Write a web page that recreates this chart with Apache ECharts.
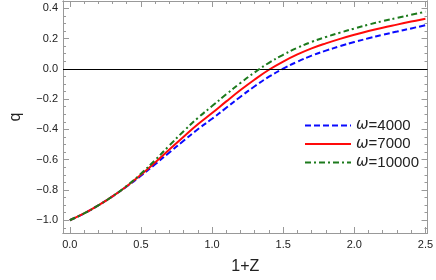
<!DOCTYPE html>
<html>
<head>
<meta charset="utf-8">
<script src="https://cdn.jsdelivr.net/npm/echarts@6/dist/echarts.min.js"></script>
<style>html,body{margin:0;padding:0;background:#fff}#c{width:436px;height:280px}</style>
</head>
<body>
<div id="c"></div>
<script>
const xValues = [0.0,0.1,0.2,0.3,0.4,0.5,0.6,0.7,0.8,0.9,1.0,1.1,1.2,1.3,1.4,1.5,1.6,1.7,1.8,1.9,2.0,2.1,2.2,2.3,2.4,2.5];
const q4000  = [-1.000,-0.955,-0.902,-0.842,-0.777,-0.706,-0.630,-0.552,-0.475,-0.399,-0.330,-0.257,-0.184,-0.115,-0.052,0.001,0.047,0.087,0.120,0.150,0.177,0.202,0.225,0.246,0.267,0.288];
const q7000  = [-1.000,-0.955,-0.902,-0.842,-0.775,-0.700,-0.618,-0.533,-0.448,-0.366,-0.292,-0.215,-0.140,-0.070,-0.006,0.048,0.095,0.135,0.168,0.198,0.225,0.250,0.272,0.292,0.312,0.331];
const q10000 = [-1.000,-0.955,-0.902,-0.842,-0.773,-0.693,-0.602,-0.506,-0.412,-0.324,-0.246,-0.168,-0.093,-0.023,0.040,0.093,0.139,0.178,0.210,0.239,0.266,0.292,0.315,0.336,0.357,0.377];
const seriesNames = ['ω=4000','ω=7000','ω=10000'];
const xMajor = [0.0,0.5,1.0,1.5,2.0,2.5];
const xMinor = [0.1,0.2,0.3,0.4,0.6,0.7,0.8,0.9,1.1,1.2,1.3,1.4,1.6,1.7,1.8,1.9,2.1,2.2,2.3,2.4];
const yMajor = [-1.0,-0.8,-0.6,-0.4,-0.2,0.0,0.2,0.4];
const yMinor = [-1.05,-0.95,-0.9,-0.85,-0.75,-0.7,-0.65,-0.55,-0.5,-0.45,-0.35,-0.3,-0.25,-0.15,-0.1,-0.05,0.05,0.1,0.15,0.25,0.3,0.35];

const XMIN = -0.048, XMAX = 2.515, YMIN = -1.084, YMAX = 0.448;
const frameColor = '#999999';
const FONT = 'Liberation Sans, Arial, sans-serif';
const fmt = v => (v < 0 ? '\u2212' : '') + Math.abs(v).toFixed(1);

function xAx(pos, vals, len, labels, extra) {
  return Object.assign({
    type: 'value', position: pos, min: XMIN, max: XMAX,
    axisLine: { show: true, onZero: false, lineStyle: { color: frameColor, width: 1 } },
    axisTick: { show: true, inside: true, length: len, customValues: vals, lineStyle: { color: frameColor, width: 1 } },
    axisLabel: labels ? { show: true, customValues: vals, formatter: fmt, color: '#222', fontSize: 11, fontFamily: FONT, margin: 6 } : { show: false },
    splitLine: { show: false }
  }, extra || {});
}
function yAx(pos, vals, len, labels, extra) {
  return Object.assign({
    type: 'value', position: pos, min: YMIN, max: YMAX,
    axisLine: { show: true, onZero: false, lineStyle: { color: frameColor, width: 1 } },
    axisTick: { show: true, inside: true, length: len, customValues: vals, lineStyle: { color: frameColor, width: 1 } },
    axisLabel: labels ? { show: true, customValues: vals, formatter: fmt, color: '#222', fontSize: 11, fontFamily: FONT, margin: 5 } : { show: false },
    splitLine: { show: false }
  }, extra || {});
}

function pairs(ys) { return xValues.map((x, i) => [x, ys[i]]); }

const chart = echarts.init(document.getElementById('c'), null, { renderer: 'canvas' });
chart.setOption({
  animation: false,
  backgroundColor: '#fff',
  grid: { left: 53, right: 7, top: 1, bottom: 43, containLabel: false },
  xAxis: [
    xAx('bottom', xMajor, 6, true, { name: '1+Z', nameLocation: 'middle', nameGap: 26, nameTextStyle: { fontSize: 16, color: '#222', fontFamily: FONT } }),
    xAx('bottom', xMinor, 3, false),
    xAx('top', xMajor, 6, false),
    xAx('top', xMinor, 3, false)
  ],
  yAxis: [
    yAx('left', yMajor, 6, true, { name: 'q', nameLocation: 'middle', nameRotate: 90, nameGap: 39, nameTextStyle: { fontSize: 16, color: '#222', fontFamily: FONT } }),
    yAx('left', yMinor, 3, false),
    yAx('right', yMajor, 6, false),
    yAx('right', yMinor, 3, false)
  ],
  legend: {
    orient: 'vertical', left: 299, top: 113,
    itemWidth: 46, itemHeight: 14, itemGap: 3.5,
    data: seriesNames,
    itemStyle: { opacity: 0 },
    formatter: n => '{i|ω}' + n.slice(1),
    textStyle: { fontSize: 15, color: '#222', fontFamily: FONT,
      rich: { i: { fontStyle: 'italic', fontSize: 15, fontFamily: 'DejaVu Sans, sans-serif' } } }
  },
  series: [
    { name: seriesNames[0], type: 'line', data: pairs(q4000), smooth: 0.4, symbol: 'none', showSymbol: false,
      lineStyle: { color: '#0a0aff', width: 2, type: [6, 3] }, itemStyle: { color: '#0a0aff' }, z: 3,
      markLine: { silent: true, symbol: 'none', label: { show: false }, lineStyle: { color: '#000', width: 1, type: 'solid' }, data: [{ yAxis: 0 }] } },
    { name: seriesNames[1], type: 'line', data: pairs(q7000), smooth: 0.4, symbol: 'none', showSymbol: false,
      lineStyle: { color: '#ff0a0a', width: 2, type: 'solid' }, itemStyle: { color: '#ff0a0a' }, z: 4 },
    { name: seriesNames[2], type: 'line', data: pairs(q10000), smooth: 0.4, symbol: 'none', showSymbol: false,
      lineStyle: { color: '#1c7a1c', width: 2, type: [6, 3, 2, 3] }, itemStyle: { color: '#1c7a1c' }, z: 5 }
  ]
});
</script>
</body>
</html>
